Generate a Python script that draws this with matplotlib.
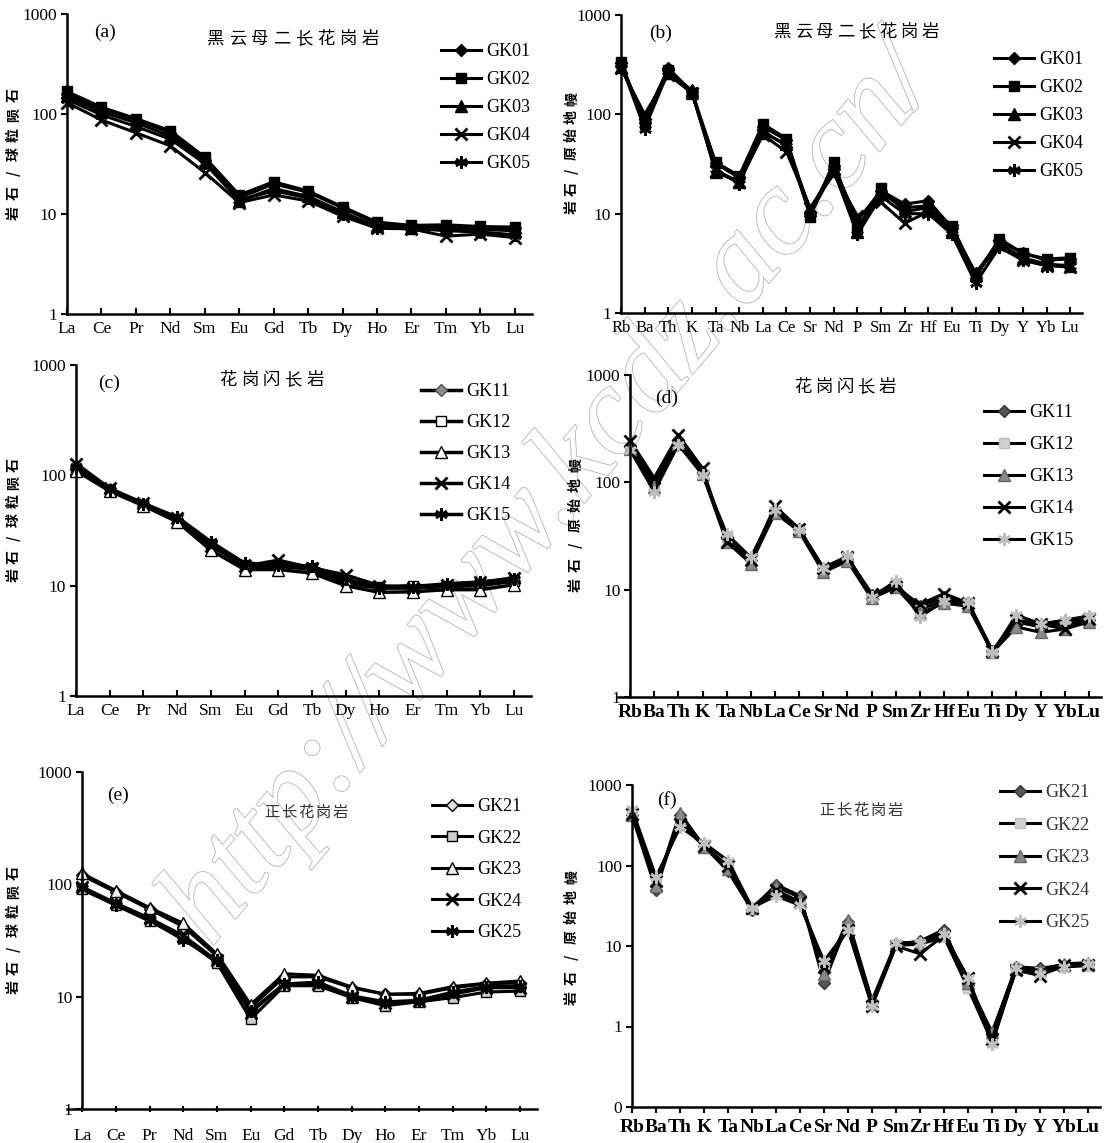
import matplotlib
matplotlib.use('Agg')
import matplotlib.pyplot as plt
from matplotlib import patheffects

plt.rcParams['font.family'] = ['Liberation Serif', 'Noto Sans CJK SC', 'DejaVu Sans']

W, H = 1107, 1143

# element order for the two diagram types
ree = ['La', 'Ce', 'Pr', 'Nd', 'Sm', 'Eu', 'Gd', 'Tb', 'Dy', 'Ho', 'Er', 'Tm', 'Yb', 'Lu']
spider = ['Rb', 'Ba', 'Th', 'K', 'Ta', 'Nb', 'La', 'Ce', 'Sr', 'Nd', 'P', 'Sm', 'Zr', 'Hf',
          'Eu', 'Ti', 'Dy', 'Y', 'Yb', 'Lu']

# biotite monzogranite, chondrite normalised
gk01_ree = [160, 112, 87, 65, 35, 14.5, 20, 16.5, 11.5, 8.0, 7.6, 7.6, 7.3, 7.3]
gk02_ree = [168, 117, 90, 68, 37, 15.5, 21, 17, 11.8, 8.3, 7.7, 7.8, 7.5, 7.4]
gk03_ree = [150, 105, 82, 60, 33, 13.5, 18, 15, 10.5, 7.5, 7.3, 7.2, 7.0, 6.8]
gk04_ree = [130, 87, 65, 48, 26, 13, 15.5, 13.5, 9.5, 7.2, 7.1, 6.0, 6.3, 5.8]
gk05_ree = [140, 98, 75, 56, 32, 13.8, 17, 14.5, 10, 7.3, 7.2, 6.8, 6.6, 6.2]

# biotite monzogranite, primitive mantle normalised
gk01_pm = [310, 90, 290, 170, 32, 23, 75, 55, 10.5, 30, 8.5, 17, 12.5, 13.5, 7.2, 2.5, 5.3, 4.0, 3.4, 3.5]
gk02_pm = [340, 80, 280, 160, 33, 24, 80, 57, 9.3, 33, 7.0, 18, 10.5, 11.5, 7.6, 2.3, 5.6, 4.0, 3.5, 3.6]
gk03_pm = [300, 95, 260, 175, 26, 21, 65, 50, 11, 28, 6.5, 16, 11.5, 12, 6.5, 2.4, 5.0, 3.6, 3.1, 3.0]
gk04_pm = [290, 100, 250, 165, 27, 21, 62, 42, 11.5, 25, 9.5, 13, 8, 10.5, 6.8, 2.5, 4.8, 3.4, 3.0, 2.9]
gk05_pm = [320, 72, 270, 170, 28, 20, 68, 48, 10, 27, 6.2, 15, 10, 10, 6.2, 2.0, 4.6, 3.4, 3.0, 3.0]

# granodiorite
gk11_ree = [120, 75, 55, 40, 24, 15, 15, 14, 10.5, 9.5, 9.5, 9.8, 10, 11]
gk12_ree = [115, 73, 54, 40, 24, 15.5, 15.5, 14.5, 11, 9.8, 10, 10, 10.3, 11]
gk13_ree = [110, 72, 53, 38, 21, 14, 14, 13, 10, 8.7, 8.8, 9.2, 9.2, 10.2]
gk14_ree = [128, 76, 56, 41, 23, 15, 17, 14.5, 12.5, 10, 9.6, 10.2, 10.7, 11.8]
gk15_ree = [118, 74, 55, 42, 25, 16, 15.5, 15, 11.5, 9.5, 9.8, 10.4, 10.8, 11.5]

gk11_pm = [220, 100, 250, 125, 30, 19, 55, 37, 15.5, 19.5, 9, 11, 7, 8.5, 7.5, 2.7, 5, 4.5, 4.8, 5.2]
gk12_pm = [210, 95, 240, 120, 31, 18.5, 53, 36, 15, 19, 8.8, 11, 6.5, 8, 7.2, 2.6, 5.2, 4.6, 5, 5.4]
gk13_pm = [205, 90, 230, 120, 28, 17.5, 52, 35, 14.5, 18.5, 8.3, 10.5, 6, 7.5, 7, 2.6, 4.5, 4.0, 4.3, 5]
gk14_pm = [245, 110, 275, 135, 28, 19, 60, 37, 16, 20, 9.2, 10.5, 7.3, 9.2, 7.5, 2.7, 5.2, 4.8, 4.3, 5.3]
gk15_pm = [200, 82, 225, 118, 33, 20, 55, 36, 16, 20.5, 8.5, 12, 5.6, 7.8, 7.7, 2.6, 5.8, 4.8, 5.2, 5.7]

# syenogranite
gk21_ree = [120, 85, 60, 42, 23, 8.0, 15, 15, 12, 10.5, 10.5, 12, 13, 13.3]
gk22_ree = [90, 65, 47, 33, 20, 6.3, 12.5, 12.5, 9.8, 8.3, 9, 9.8, 11, 11.2]
gk23_ree = [125, 88, 62, 45, 24, 8.5, 16, 15.5, 12.2, 10.5, 10.7, 12.3, 13.2, 13.8]
gk24_ree = [95, 68, 50, 35, 21, 7.2, 13, 13, 10, 8.8, 9.2, 10.5, 12, 12]
gk25_ree = [92, 66, 48, 32, 21, 7.5, 13, 13.5, 10.2, 9, 9.3, 11, 12.3, 12.5]

gk21_pm = [420, 50, 420, 175, 85, 28, 58, 42, 3.5, 20, 2.0, 10.5, 11.5, 16, 3.3, 0.8, 5.5, 5.3, 5.8, 6.0]
gk22_pm = [450, 60, 350, 180, 95, 30, 45, 35, 6.0, 17, 1.9, 10.2, 10.5, 13, 3.0, 0.65, 5.0, 4.8, 5.5, 5.7]
gk23_pm = [430, 55, 450, 170, 90, 30, 55, 40, 4.5, 21, 2.1, 11, 10.5, 15, 3.5, 0.85, 5.3, 5.0, 6.0, 6.2]
gk24_pm = [440, 65, 330, 175, 100, 30, 50, 35, 5.5, 16, 1.8, 10, 8, 13.5, 4.0, 0.7, 5.0, 4.3, 5.8, 5.8]
gk25_pm = [500, 72, 300, 190, 115, 30, 42, 32, 6.5, 16, 1.8, 11, 11, 14, 4.0, 0.6, 5.3, 4.5, 5.5, 5.9]

names1 = ['GK01', 'GK02', 'GK03', 'GK04', 'GK05']
names2 = ['GK11', 'GK12', 'GK13', 'GK14', 'GK15']
names3 = ['GK21', 'GK22', 'GK23', 'GK24', 'GK25']

shapes = [dict(marker='D', ms=6), dict(marker='s', ms=7), dict(marker='^', ms=8),
          dict(marker='x', ms=8, mew=2), dict(marker=(6, 2, 0), ms=9, mew=2)]


def fx(x):
    return x / W


def fy(y):
    return 1 - y / H


def spaced(x0, y0, text, dx, dy, **kw):
    # one glyph at a time so the characters keep the wide spacing
    for i, ch in enumerate(text):
        fig.text(fx(x0 + i * dx), fy(y0 + i * dy), ch, ha='center', va='center', **kw)


def panel(left, top, right, bottom, xlim, ylim, cats, series, names, faces, edges,
          yticks, ylabels, xdir='in', xsize=12.5, xweight='normal', lw=2.2, spine0=False):
    ax = fig.add_axes([fx(left), fy(bottom), (right - left) / W, (bottom - top) / H])
    ax.set_facecolor('none')
    x = list(range(len(cats)))
    lines = []
    for vals, name, shp, fc, ec in zip(series, names, shapes, faces, edges):
        ln, = ax.plot(x, vals, color='black', lw=lw, mfc=fc, mec=ec, label=name,
                      clip_on=False, **shp)
        lines.append(ln)
    ax.set_yscale('log')
    ax.set_xlim(*xlim)
    ax.set_ylim(*ylim)
    ax.set_yticks(yticks)
    ax.set_yticklabels(ylabels)
    ax.minorticks_off()
    ax.set_xticks(x)
    ax.set_xticklabels(cats, fontsize=xsize, fontweight=xweight)
    for s in ['top', 'right']:
        ax.spines[s].set_visible(False)
    for s in ['left', 'bottom']:
        ax.spines[s].set_linewidth(1.8)
    if spine0:
        ax.spines['left'].set_position(('data', 0))
    ax.tick_params(axis='y', direction='out', length=4, width=1.5, labelsize=12.5, pad=3)
    ax.tick_params(axis='x', direction=xdir, length=4, width=1.5, pad=5)
    return ax, lines


def legend(ax, lines, x, y, pitch, weight='normal', color='black'):
    ax.legend(handles=lines, loc='upper left', bbox_to_anchor=(fx(x), fy(y - 9)),
              bbox_transform=fig.transFigure, frameon=False, fontsize=13,
              borderpad=0, borderaxespad=0, handlelength=2.2, handletextpad=0.3,
              labelspacing=(pitch - 18.5) / 18, labelcolor=color,
              prop={'weight': weight, 'size': 13})


fig = plt.figure(figsize=(W / 100, H / 100), dpi=100)

dec = [1, 10, 100, 1000]
dec_lab = ['1', '10', '100', '1000']

# (a)
ax, ln = panel(67, 14, 532, 314, (0, 13.5), (1, 1000), ree,
               [gk01_ree, gk02_ree, gk03_ree, gk04_ree, gk05_ree], names1,
               ['black'] * 5, ['black'] * 5, dec, dec_lab)
legend(ax, ln, 441, 52, 29.5)

# (b)
ax, ln = panel(621, 15, 1082, 313, (0, 19.5), (1, 1000), spider,
               [gk01_pm, gk02_pm, gk03_pm, gk04_pm, gk05_pm], names1,
               ['black'] * 5, ['black'] * 5, dec, dec_lab, xsize=12)
legend(ax, ln, 994, 60, 29.5)

# (c)
ax, ln = panel(76, 365, 531, 696, (0, 13.5), (1, 1000), ree,
               [gk11_ree, gk12_ree, gk13_ree, gk14_ree, gk15_ree], names2,
               ['#8c8c8c', 'white', 'white', 'black', 'black'],
               ['#555555', 'black', 'black', 'black', 'black'], dec, dec_lab, lw=2.5)
legend(ax, ln, 421, 392, 32.5)

# (d)
ax, ln = panel(618, 375, 1101, 697, (-0.5, 19.5), (1, 1000), spider,
               [gk11_pm, gk12_pm, gk13_pm, gk14_pm, gk15_pm], names2,
               ['#555555', '#d0d0d0', '#8a8a8a', 'black', '#bdbdbd'],
               ['#333333', '#bbbbbb', '#666666', 'black', '#bdbdbd'], dec, dec_lab,
               xsize=14, xweight='bold', spine0=True)
legend(ax, ln, 984, 413, 33.5)

# (e)
ax, ln = panel(67, 772, 537, 1109, (-0.45, 13.5), (1, 1000), ree,
               [gk21_ree, gk22_ree, gk23_ree, gk24_ree, gk25_ree], names3,
               ['#e0e0e0', '#cccccc', '#f0f0f0', 'black', 'black'],
               ['black'] * 5, dec, dec_lab, xdir='inout', spine0=True)
ax.tick_params(axis='x', pad=12)
legend(ax, ln, 432, 807, 33)

# (f)
ax, ln = panel(632, 785, 1100, 1107, (0, 19.5), (0.1, 1000), spider,
               [gk21_pm, gk22_pm, gk23_pm, gk24_pm, gk25_pm], names3,
               ['#555555', '#d0d0d0', '#8a8a8a', 'black', '#c0c0c0'],
               ['#333333', '#c0c0c0', '#666666', 'black', '#c0c0c0'],
               [0.1] + dec, ['0'] + dec_lab, xdir='out', xsize=14, xweight='bold')
legend(ax, ln, 1000, 793, 34, color='#333333')

# panel letters
for lab, x, y in [('(a)', 105, 32), ('(b)', 661, 33), ('(c)', 109, 383),
                  ('(d)', 667, 398), ('(e)', 118, 795), ('(f)', 667, 800)]:
    fig.text(fx(x), fy(y), lab, ha='center', va='center', fontsize=14)

# rock names
cjk = ['Noto Sans CJK SC', 'DejaVu Sans']
spaced(216, 39, '黑云母二长花岗岩', 22, 0, fontsize=12.5, family=cjk)
spaced(783, 32, '黑云母二长花岗岩', 21, 0, fontsize=12.5, family=cjk)
spaced(228, 380, '花岗闪长岩', 21.7, 0, fontsize=12.5, family=cjk)
spaced(803, 387, '花岗闪长岩', 21, 0, fontsize=12.5, family=cjk)
spaced(272, 812, '正长花岗岩', 17, 0, fontsize=11, family=cjk, color='#333333')
spaced(827, 810, '正长花岗岩', 17, 0, fontsize=11, family=cjk, color='#333333')

# y-axis titles, read bottom to top
ych = '岩石/球粒陨石'
ypm = '岩石/原始地幔'
kw = dict(fontsize=10, family=cjk, fontweight='bold', rotation=90)
spaced(14, 213, ych, 0, -19.6, **kw)
spaced(572, 207, ypm, 0, -18, **kw)
spaced(14, 575, ych, 0, -18.4, **kw)
spaced(576, 585, ypm, 0, -20, **kw)
spaced(14, 987, ych, 0, -19, **kw)
spaced(572, 998, ypm, 0, -20.2, **kw)

# site address stamped across the sheet
fig.text(fx(552), fy(495), 'http://www.kcdz.ac.cn/', rotation=50, ha='center', va='center',
         fontsize=90, style='italic', family='Liberation Serif', color='white',
         path_effects=[patheffects.withStroke(linewidth=1.2, foreground='#b4b4b4')],
         zorder=-1)

fig.savefig('out.png', dpi=100)
